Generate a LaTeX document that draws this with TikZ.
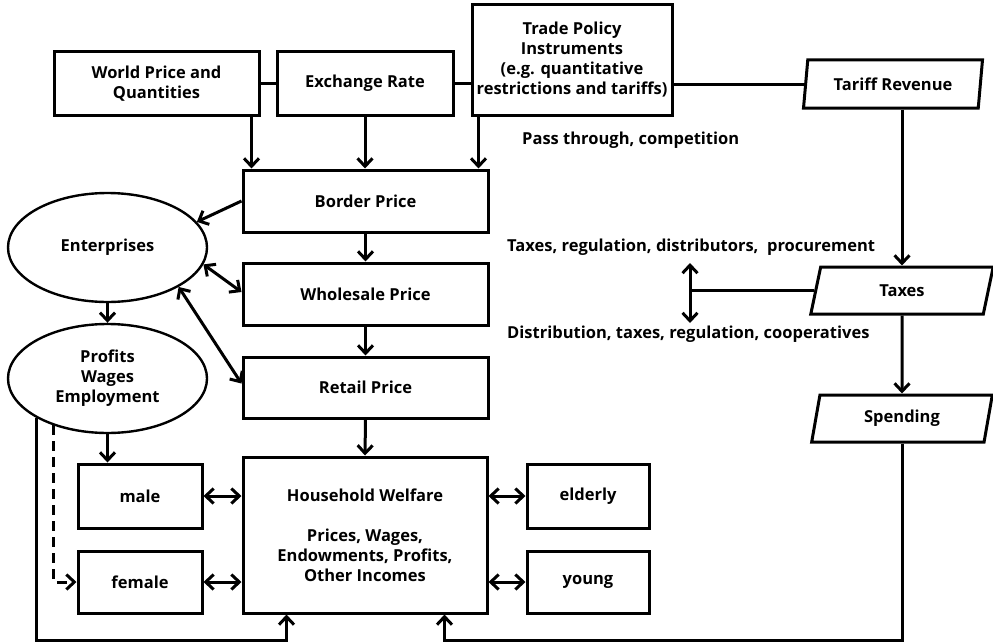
\documentclass[tikz,border=0pt]{standalone}
\usepackage{fontspec}
\setmainfont{Open Sans}
\usetikzlibrary{arrows.meta,shapes.geometric}
\begin{document}
\begin{tikzpicture}[x=1pt,y=-1pt,
  every node/.style={font=\fontsize{16.5}{20}\selectfont\bfseries, align=center, inner sep=0pt},
  box/.style={draw, rectangle, line width=3pt},
  oval/.style={draw, ellipse, line width=2.4pt, minimum width=199pt, minimum height=109pt},
  para/.style={draw, trapezium, trapezium left angle=77, trapezium right angle=103,
    trapezium stretches=true, line width=3pt},
  link/.style={line width=3pt},
  tip/.tip={Straight Barb[length=8pt,width=15pt]},
  arr/.style={link, -tip},
  darr/.style={link, tip-tip},
]
\useasboundingbox (0,0) rectangle (993,642);

% top row: inputs
\node[box, minimum width=205pt, minimum height=63pt] (world) at (156.5,83.5) {World Price and\\Quantities};
\node[box, minimum width=176pt, minimum height=63pt] (exchange) at (365,83.5) {Exchange Rate};
\node[box, minimum width=200pt, minimum height=110pt] (trade) at (572,60) {Trade Policy\\Instruments\\(e.g. quantitative\\restrictions and tariffs)};

% price chain
\node[box, minimum width=245pt, minimum height=62pt] (border) at (365.5,201) {Border Price};
\node[box, minimum width=245pt, minimum height=62pt] (wholesale) at (365.5,294) {Wholesale Price};
\node[box, minimum width=245pt, minimum height=61pt] (retail) at (365.5,387.5) {Retail Price};
\node[box, minimum width=244pt, minimum height=156pt] (household) at (365,535)
  {Household Welfare\\[20pt]Prices, Wages,\\Endowments, Profits,\\Other Incomes};

% producers
\node[oval] (enterprises) at (107.5,247.5) {Enterprises};
\node[oval] (profits) at (107.5,378.5) {Profits\\Wages\\Employment};

% household groups
\node[box, minimum width=124pt, minimum height=64pt] (male) at (140,496) {male};
\node[box, minimum width=124pt, minimum height=62pt] (female) at (140,582) {female};
\node[box, minimum width=122pt, minimum height=64pt] (elderly) at (588,496) {elderly};
\node[box, minimum width=122pt, minimum height=62pt] (young) at (588,582) {young};

% government
\node[para, minimum width=179pt, minimum height=48pt] (tariff) at (893,84) {Tariff Revenue};
\node[para, minimum width=183pt, minimum height=47pt] (taxes) at (902,290.5) {Taxes};
\node[para, minimum width=182pt, minimum height=47pt] (spending) at (902,418.5) {Spending};

% annotations
\node[anchor=west] (lblpass) at (522,140) {Pass through, competition};
\node[anchor=west] (lbltax) at (507,247) {Taxes, regulation, distributors,~ procurement};
\node[anchor=west] (lbldist) at (507,334) {Distribution, taxes, regulation, cooperatives};

% helper points
\coordinate (w1) at ([xshift=-9pt]world.south east);
\coordinate (t1) at ([xshift=8pt]trade.south west);
\coordinate (hwL) at ([xshift=45pt]household.south west);
\coordinate (hwR) at ([xshift=-44pt]household.south east);
\coordinate (floor) at (0,640);
\coordinate (vup) at (690,263);
\coordinate (vdn) at (690,323);

% top connections
\draw[link] (world.east) -- (exchange.west);
\draw[link] (exchange.east) -- (exchange.east -| trade.west);
\draw[link] (tariff.180 -| trade.east) -- (tariff.180);
\draw[arr] (w1) -- (w1 |- border.north);
\draw[arr] (exchange.south) -- (exchange.south |- border.north);
\draw[arr] (t1) -- (t1 |- border.north);

% price chain
\draw[arr] (border.south) -- (wholesale.north);
\draw[arr] (wholesale.south) -- (retail.north);
\draw[arr] (retail.south) -- (household.north);

% enterprises
\draw[arr] (border.west) -- (enterprises.16);
\draw[darr] (enterprises.-10) -- ([yshift=2pt]wholesale.west);
\draw[darr] (enterprises.-29) -- ([yshift=4pt]retail.west);
\draw[arr] (enterprises.south) -- (profits.north);
\draw[arr] (profits.south) -- (profits.south |- male.north);
\draw[arr] (profits.209) |- (floor -| hwL) -- (hwL);
\draw[arr, dash pattern=on 10pt off 6pt] (profits.221) |- (female.west);

% household groups
\draw[darr] (male.east) -- (household.west |- male.east);
\draw[darr] (female.east) -- (household.west |- female.east);
\draw[darr] (household.east |- elderly.west) -- (elderly.west);
\draw[darr] (household.east |- young.west) -- (young.west);

% government
\draw[arr] (taxes.north |- tariff.south) -- (taxes.north);
\draw[arr] (taxes.south) -- (spending.north);
\draw[arr] (spending.south) |- (floor -| hwR) -- (hwR);
\draw[link] (taxes.180) -- (taxes.180 -| vup);
\draw[darr] (vup) -- (vdn);
\end{tikzpicture}
\end{document}
